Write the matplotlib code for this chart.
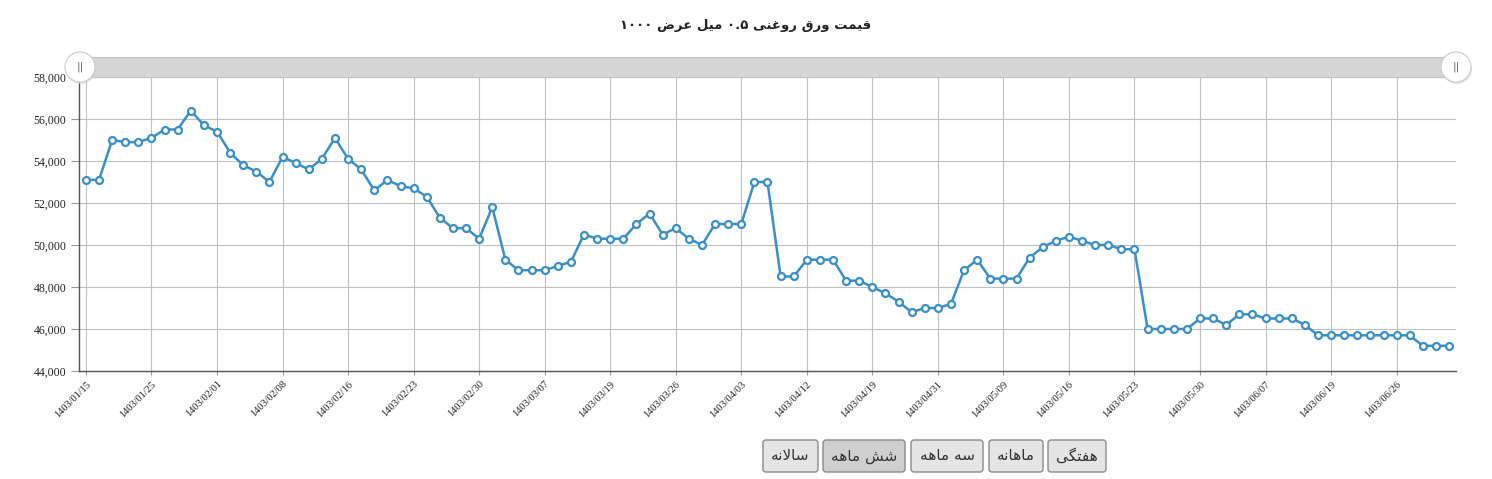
#!/usr/bin/env python3

import re

import matplotlib
matplotlib.use("Agg")
import matplotlib.pyplot as plt
from matplotlib.patches import Circle, FancyBboxPatch, Rectangle
from matplotlib.transforms import IdentityTransform

# ---- data -------------------------------------------------------------
title_text: str = "قیمت ورق روغنی ۰.۵ میل عرض ۱۰۰۰"

prices: list[int] = [
    53100, 53100, 55000, 54900, 54900, 55100, 55500, 55500, 56400, 55700,
    55400, 54400, 53800, 53500, 53000, 54200, 53900, 53600, 54100, 55100,
    54100, 53600, 52600, 53100, 52800, 52700, 52300, 51300, 50800, 50800,
    50300, 51800, 49300, 48800, 48800, 48800, 49000, 49200, 50500, 50300,
    50300, 50300, 51000, 51500, 50500, 50800, 50300, 50000, 51000, 51000,
    51000, 53000, 53000, 48500, 48500, 49300, 49300, 49300, 48300, 48300,
    48000, 47700, 47300, 46800, 47000, 47000, 47200, 48800, 49300, 48400,
    48400, 48400, 49400, 49900, 50200, 50400, 50200, 50000, 50000, 49800,
    49800, 46000, 46000, 46000, 46000, 46500, 46500, 46200, 46700, 46700,
    46500, 46500, 46500, 46200, 45700, 45700, 45700, 45700, 45700, 45700,
    45700, 45700, 45200, 45200, 45200,
]

tick_dates: list[str] = [
    "1403/01/15", "1403/01/25", "1403/02/01", "1403/02/08", "1403/02/16",
    "1403/02/23", "1403/02/30", "1403/03/07", "1403/03/19", "1403/03/26",
    "1403/04/03", "1403/04/12", "1403/04/19", "1403/04/31", "1403/05/09",
    "1403/05/16", "1403/05/23", "1403/05/30", "1403/06/07", "1403/06/19",
    "1403/06/26",
]
tick_step: int = 5

y_ticks: list[int] = [44000, 46000, 48000, 50000, 52000, 54000, 56000, 58000]

range_buttons: list[str] = ["سالانه", "شش ماهه", "سه ماهه", "ماهانه", "هفتگی"]
selected_button: str = "شش ماهه"

# ---- simple persian shaping (matplotlib has no bidi / joining) --------
FORMS: dict[str, tuple[str, ...]] = {
    "ا": ("\uFE8D", "\uFE8E"),
    "و": ("\uFEED", "\uFEEE"),
    "ر": ("\uFEAD", "\uFEAE"),
    "ت": ("\uFE95", "\uFE96", "\uFE97", "\uFE98"),
    "س": ("\uFEB1", "\uFEB2", "\uFEB3", "\uFEB4"),
    "ش": ("\uFEB5", "\uFEB6", "\uFEB7", "\uFEB8"),
    "ض": ("\uFEBD", "\uFEBE", "\uFEBF", "\uFEC0"),
    "ع": ("\uFEC9", "\uFECA", "\uFECB", "\uFECC"),
    "غ": ("\uFECD", "\uFECE", "\uFECF", "\uFED0"),
    "ف": ("\uFED1", "\uFED2", "\uFED3", "\uFED4"),
    "ق": ("\uFED5", "\uFED6", "\uFED7", "\uFED8"),
    "ل": ("\uFEDD", "\uFEDE", "\uFEDF", "\uFEE0"),
    "م": ("\uFEE1", "\uFEE2", "\uFEE3", "\uFEE4"),
    "ن": ("\uFEE5", "\uFEE6", "\uFEE7", "\uFEE8"),
    "ه": ("\uFEE9", "\uFEEA", "\uFEEB", "\uFEEC"),
    "ی": ("\uFBFC", "\uFBFD", "\uFBFE", "\uFBFF"),
    "گ": ("\uFB92", "\uFB93", "\uFB94", "\uFB95"),
    "ک": ("\uFB8E", "\uFB8F", "\uFB90", "\uFB91"),
}
LAM_ALEF: tuple[str, str] = ("\uFEFB", "\uFEFC")
DIGITS = r"0-9\u06F0-\u06F9"


def joins_next(ch: str) -> bool:
    return ch in FORMS and len(FORMS[ch]) == 4


def fa(text: str) -> str:
    glyphs: list[str] = []
    i = 0
    while i < len(text):
        ch = text[i]
        prev = text[i - 1] if i > 0 else ""
        if ch not in FORMS:
            glyphs.append(ch)
            i += 1
            continue
        linked_prev = joins_next(prev)
        if ch == "ل" and i + 1 < len(text) and text[i + 1] == "ا":
            glyphs.append(LAM_ALEF[1 if linked_prev else 0])
            i += 2
            continue
        nxt = text[i + 1] if i + 1 < len(text) else ""
        f = FORMS[ch]
        linked_next = len(f) == 4 and nxt in FORMS
        if linked_prev and linked_next:
            glyphs.append(f[3])
        elif linked_prev:
            glyphs.append(f[1])
        elif linked_next:
            glyphs.append(f[2])
        else:
            glyphs.append(f[0])
        i += 1
    shaped = "".join(glyphs)
    runs = re.findall(rf"[{DIGITS}][{DIGITS}.]*|[^{DIGITS}]+", shaped)
    return "".join(r if re.match(rf"[{DIGITS}]", r) else r[::-1]
                   for r in reversed(runs))


# ---- figure -------------------------------------------------------------
W, H = 1492, 479
fig = plt.figure(figsize=(W / 100, H / 100), dpi=100)
fig.patch.set_facecolor("white")


def px(x: float, y: float) -> tuple[float, float]:
    # pixel from top-left -> display coords
    return x, H - y


ax_left, ax_right, ax_top, ax_bottom = 79, 1456, 77, 371
ax = fig.add_axes((ax_left / W, (H - ax_bottom) / H,
                   (ax_right - ax_left) / W, (ax_bottom - ax_top) / H))

x_idx = list(range(len(prices)))
ax.plot(x_idx, prices, color="#3a8fc7", lw=1.8, marker="o", ms=5,
        mfc="white", mec="#3a8fc7", mew=1.6, zorder=3, clip_on=False)

ax.set_xlim(-0.53, len(prices) - 1 + 0.53)
ax.set_ylim(44000, 58000)
ax.set_yticks(y_ticks)
ax.set_yticklabels([f"{v:,}" for v in y_ticks],
                   fontfamily="Liberation Serif", fontsize=8.5, color="#222")
ax.set_xticks(x_idx[::tick_step])
ax.set_xticklabels(tick_dates, rotation=45, ha="right", va="top",
                   rotation_mode="anchor", fontfamily="Liberation Serif",
                   fontsize=7.5, color="#222")
ax.tick_params(axis="y", length=6, color="#999999", pad=3)
ax.tick_params(axis="x", length=3, color="#999999", pad=3)
ax.grid(True, color="#bfbfbf", lw=0.8)
ax.set_axisbelow(True)
for side in ("top", "right"):
    ax.spines[side].set_visible(False)
for side in ("left", "bottom"):
    ax.spines[side].set_color("#555555")
    ax.spines[side].set_linewidth(1.0)

# title
fig.text(746 / W, (H - 25) / H, fa(title_text), ha="center", va="center",
         fontsize=9.5, fontweight="bold", color="#222222",
         fontfamily="DejaVu Sans")

# range slider on top of the plot
ident = IdentityTransform()
x0, y0 = px(80, 77)
fig.patches.append(Rectangle((x0, y0), 1456 - 80, 20, transform=ident,
                             facecolor="#d6d6d6", edgecolor="#c4c4c4",
                             lw=0.8, zorder=2))
for hx in (80, 1456):
    cx, cy = px(hx, 67)
    fig.patches.append(Circle((cx + 1, cy - 2), 15, transform=ident,
                              facecolor="#d0d0d0", edgecolor="none",
                              alpha=0.6, zorder=3))
    fig.patches.append(Circle((cx, cy), 15, transform=ident,
                              facecolor="white", edgecolor="#cccccc",
                              lw=0.8, zorder=4))
    fig.text(hx / W, (H - 67) / H, "||", ha="center", va="center",
             fontsize=8, color="#666666", zorder=5)

# period buttons
button_edges: list[tuple[int, int]] = [(763, 818), (823, 905), (911, 983),
                                       (989, 1043), (1048, 1106)]
for label, (bx0, bx1) in zip(range_buttons, button_edges):
    bx, by = px(bx0, 472)
    face = "#cfcfcf" if label == selected_button else "#e5e5e5"
    fig.patches.append(FancyBboxPatch((bx, by), bx1 - bx0, 32,
                                      boxstyle="round,pad=0,rounding_size=3",
                                      transform=ident, facecolor=face,
                                      edgecolor="#8a8a8a", lw=1.0, zorder=2))
    fig.text((bx0 + bx1) / 2 / W, (H - 456) / H, fa(label), ha="center",
             va="center", fontsize=11, color="#333333",
             fontfamily="DejaVu Sans", zorder=3)

fig.savefig("out.png", dpi=100)
